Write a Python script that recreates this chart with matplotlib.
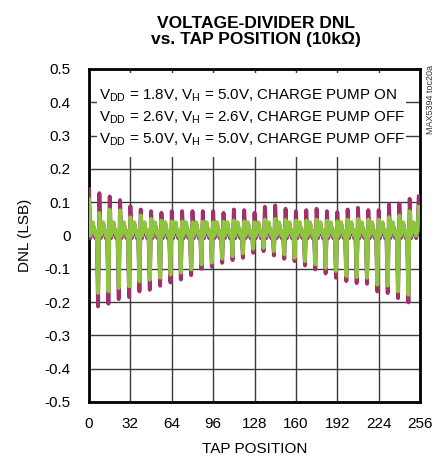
import numpy as np
import matplotlib
matplotlib.use('Agg')
import matplotlib.pyplot as plt
from matplotlib.patches import Rectangle

plt.rcParams['font.family'] = ['Liberation Sans', 'DejaVu Sans']
plt.rcParams['mathtext.fontset'] = 'custom'
plt.rcParams['mathtext.rm'] = 'Liberation Sans'
plt.rcParams['mathtext.it'] = 'Liberation Sans:italic'

taps = np.arange(256)

# positive spikes at taps 0, 8, 16, ..., 248 and 255
pos_18 = [0.139, 0.127, 0.117, 0.106, 0.088, 0.078, 0.073, 0.068, 0.073, 0.073, 0.073,
          0.073, 0.073, 0.068, 0.078, 0.076, 0.068, 0.086, 0.090, 0.080, 0.073, 0.076,
          0.080, 0.073, 0.070, 0.078, 0.083, 0.076, 0.076, 0.093, 0.096, 0.110, 0.117]
pos_26 = [0.100, 0.062, 0.072, 0.070, 0.050, 0.054, 0.045, 0.040, 0.038, 0.038, 0.036,
          0.038, 0.036, 0.038, 0.040, 0.038, 0.036, 0.043, 0.045, 0.042, 0.040, 0.040,
          0.043, 0.040, 0.038, 0.043, 0.045, 0.043, 0.043, 0.050, 0.055, 0.066, 0.078]
pos_50 = [0.108, 0.068, 0.078, 0.076, 0.055, 0.060, 0.050, 0.045, 0.042, 0.042, 0.040,
          0.042, 0.040, 0.042, 0.045, 0.042, 0.040, 0.048, 0.050, 0.047, 0.045, 0.045,
          0.048, 0.045, 0.043, 0.048, 0.050, 0.048, 0.048, 0.055, 0.060, 0.073, 0.086]

# negative spikes at taps 7, 15, ..., 247
neg_18 = [-0.213, -0.205, -0.191, -0.185, -0.168, -0.163, -0.151, -0.141, -0.132, -0.119,
          -0.100, -0.094, -0.082, -0.074, -0.067, -0.052, -0.047, -0.060, -0.070, -0.077,
          -0.090, -0.102, -0.114, -0.127, -0.137, -0.143, -0.145, -0.168, -0.173, -0.188, -0.201]
neg_26 = [-0.165, -0.160, -0.150, -0.146, -0.131, -0.127, -0.121, -0.112, -0.106, -0.097,
          -0.082, -0.078, -0.066, -0.058, -0.050, -0.037, -0.034, -0.044, -0.054, -0.063,
          -0.073, -0.082, -0.092, -0.101, -0.116, -0.119, -0.121, -0.141, -0.144, -0.160, -0.170]
neg_50 = [-0.173, -0.168, -0.158, -0.153, -0.138, -0.133, -0.127, -0.118, -0.112, -0.102,
          -0.087, -0.082, -0.070, -0.062, -0.054, -0.040, -0.037, -0.047, -0.057, -0.067,
          -0.077, -0.087, -0.097, -0.107, -0.122, -0.125, -0.127, -0.148, -0.151, -0.168, -0.178]

# small ripple between the spikes (taps 8k+1 .. 8k+6)
rip_18 = [-0.008, 0.020, 0.035, 0.012, -0.008, 0.010]
rip_26 = [-0.002, 0.024, 0.036, 0.012, -0.002, 0.013]
rip_50 = [0.000, 0.028, 0.040, 0.012, 0.000, 0.015]

yticks = [0.5, 0.4, 0.3, 0.2, 0.1, 0, -0.1, -0.2, -0.3, -0.4, -0.5]
ytick_labels = ['0.5', '0.4', '0.3', '0.2', '0.1', '0', '-0.1', '-0.2', '-0.3', '-0.4', '-0.5']
xticks = [0, 32, 64, 96, 128, 160, 192, 224, 256]

labels = [r'V$_{\mathrm{DD}}$ = 1.8V, V$_{\mathrm{H}}$ = 5.0V, CHARGE PUMP ON',
          r'V$_{\mathrm{DD}}$ = 2.6V, V$_{\mathrm{H}}$ = 2.6V, CHARGE PUMP OFF',
          r'V$_{\mathrm{DD}}$ = 5.0V, V$_{\mathrm{H}}$ = 5.0V, CHARGE PUMP OFF']


def build(pos, neg, rip):
    y = np.zeros(256)
    for t in taps:
        r = t % 8
        if r == 0:
            y[t] = pos[t // 8]
        elif r == 7:
            y[t] = neg[t // 8] if t < 255 else pos[32]
        else:
            y[t] = rip[r - 1]
    return y


fig = plt.figure(figsize=(4.42, 4.62), dpi=100)
ax = fig.add_axes([0.2014, 0.1299, 0.7489, 0.7208])

ax.plot(taps, build(pos_18, neg_18, rip_18), color='#a0306c', lw=2.8, zorder=3)
ax.plot(taps, build(pos_26, neg_26, rip_26), color='#6b6fb0', lw=2.6, zorder=4)
ax.plot(taps, build(pos_50, neg_50, rip_50), color='#8fc43e', lw=2.7, zorder=5)

ax.set_xlim(0, 256)
ax.set_ylim(-0.5, 0.5)
ax.set_xticks(xticks)
ax.set_yticks(yticks)
ax.set_yticklabels(ytick_labels)
ax.tick_params(length=0, labelsize=11)
ax.tick_params(axis='y', pad=13)
ax.tick_params(axis='x', pad=11)
ax.grid(True, color='#3a3a3a', lw=1.0)
ax.set_axisbelow(True)
for s in ax.spines.values():
    s.set_linewidth(2.0)

ax.set_xlabel('TAP POSITION', fontsize=11, labelpad=8)
ax.set_ylabel('DNL (LSB)', fontsize=11, labelpad=9)

# white box behind the legend text
ax.add_patch(Rectangle((0.024, 0.736), 0.934, 0.252, transform=ax.transAxes,
                       facecolor='white', edgecolor='none', zorder=1.5))
for i, lab in enumerate(labels):
    ax.text(0.030, 0.907 - i * 0.065, lab, transform=ax.transAxes, fontsize=10.9,
            ha='left', va='baseline', zorder=6)

fig.text(0.579, 0.932, 'VOLTAGE-DIVIDER DNL\nvs. TAP POSITION (10k\u03a9)',
         ha='center', va='center', fontsize=12.5, fontweight='bold', linespacing=1.15)
fig.text(0.973, 0.784, 'MAX5394 toc20a', rotation=90, ha='center', va='center',
         fontsize=6.5, color='#333333')

fig.savefig('out.png', dpi=100)
